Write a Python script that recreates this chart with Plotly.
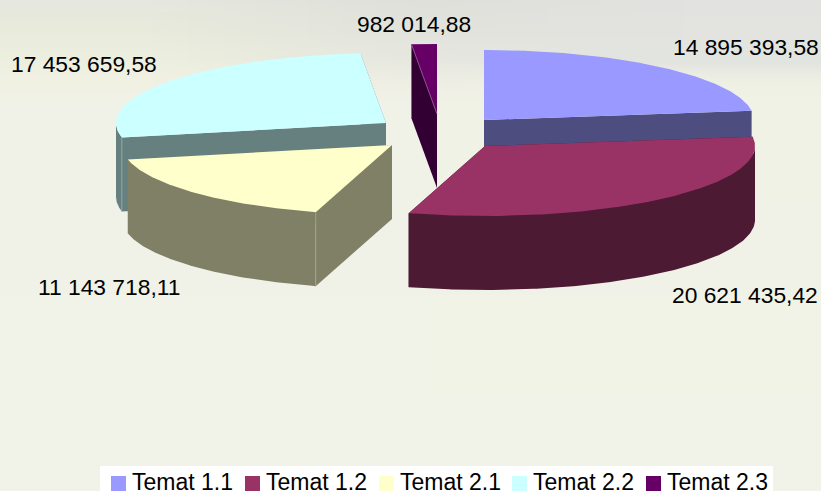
import base64, struct, zlib
import numpy as np
import plotly.graph_objects as go

# ---- data ----
categories = ["Temat 1.1", "Temat 1.2", "Temat 2.1", "Temat 2.2", "Temat 2.3"]
values = [14895393.58, 20621435.42, 11143718.11, 17453659.58, 982014.88]

# ---- styles / layout constants (page pixels) ----
top_colors = ["#9999ff", "#993366", "#ffffcc", "#ccffff", "#660066"]
wall_colors = ["#4d4d80", "#4d1a33", "#808066", "#668080", "#330033"]
seam_colors = ["#6a6a9a", "#6a3a50", "#a3a38c", "#8aa3a3", "#8a4c8a"]
apex = [(484, 120), (485, 146), (392, 145), (386, 123), (437, 114)]
label_pos = [(672, 47), (671, 295), (37, 287), (10, 64), (356, 24)]
legend_x = [111, 245, 379, 512, 646]
RX, RY, DEPTH = 270, 70, 74
W, H = 821, 491
FONT = "Liberation Sans"


def fmt(v):
    return f"{v:,.2f}".replace(",", " ").replace(".", ",")


def png_uri():
    rows_y = [0, 30, 60, 78, 100, 491]
    left = [(230, 231, 222), (233, 235, 220), (237, 239, 223), (240, 241, 227), (241, 242, 231), (242, 243, 232)]
    mid = [(223, 224, 218), (226, 227, 220), (231, 232, 223), (238, 238, 228), (241, 242, 231), (242, 243, 232)]
    right = [(226, 227, 224), (227, 228, 224), (226, 228, 224), (239, 240, 228), (241, 242, 230), (242, 243, 232)]
    h, w = 99, 3
    raw = bytearray()
    ys = np.linspace(0, 491, h)
    for y in ys:
        raw.append(0)
        for col in (left, mid, right):
            for c in range(3):
                raw.append(int(round(np.interp(y, rows_y, [p[c] for p in col]))))

    def chunk(t, d):
        return struct.pack(">I", len(d)) + t + d + struct.pack(">I", zlib.crc32(t + d) & 0xffffffff)

    data = (b"\x89PNG\r\n\x1a\n" + chunk(b"IHDR", struct.pack(">IIBBBBB", w, h, 8, 2, 0, 0, 0))
            + chunk(b"IDAT", zlib.compress(bytes(raw))) + chunk(b"IEND", b""))
    return "data:image/png;base64," + base64.b64encode(data).decode()


def pt(c, t, dy=0):
    return c[0] + RX * np.sin(t), c[1] - RY * np.cos(t) + dy


def poly(x, y, color):
    return go.Scatter(x=list(x) + [x[0]], y=list(y) + [y[0]], mode="lines", fill="toself", fillcolor=color,
                      line=dict(width=0, color=color), hoverinfo="skip", showlegend=False)


total = sum(values)
cum = np.cumsum([0] + values) / total * 2 * np.pi
traces = []
for i in [3, 2, 4, 0, 1]:
    a0, a1 = cum[i], cum[i + 1]
    c = apex[i]
    ts = np.linspace(a0, a1, 160)
    # radial walls
    for t in (a0, a1):
        px, py = pt(c, t)
        traces.append(poly([c[0], px, px, c[0]], [c[1], py, py + DEPTH, c[1] + DEPTH], wall_colors[i]))
    # outer wall, front half
    lo, hi = max(a0, np.pi / 2), min(a1, 3 * np.pi / 2)
    if hi > lo:
        tw = np.linspace(lo, hi, 160)
        xt, yt = pt(c, tw)
        xb, yb = pt(c, tw, DEPTH)
        traces.append(poly(list(xt) + list(xb[::-1]), list(yt) + list(yb[::-1]), wall_colors[i]))
    # top face
    xa, ya = pt(c, ts)
    traces.append(poly([c[0]] + list(xa), [c[1]] + list(ya), top_colors[i]))
    # seam at the front corner of the slice
    if i in (2, 3):
        sx, sy = pt(c, a0)
        traces.append(go.Scatter(x=[sx, sx], y=[sy, sy + DEPTH], mode="lines", hoverinfo="skip", showlegend=False,
                                 line=dict(width=1, color=seam_colors[i])))
    if i == 4:
        sx, sy = pt(c, a0)
        traces.append(go.Scatter(x=[c[0], sx], y=[c[1], sy], mode="lines", hoverinfo="skip", showlegend=False,
                                 line=dict(width=1, color=seam_colors[i])))

# legend entries drawn as marker + text, so the swatch/text spacing follows the picture
for i, name in enumerate(categories):
    traces.append(go.Scatter(x=[legend_x[i] + 7.5], y=[483.5], mode="markers", hoverinfo="skip", showlegend=False,
                             marker=dict(symbol="square", size=15, color=top_colors[i], line=dict(width=0))))

annotations = [dict(x=p[0], y=p[1], text=fmt(v), showarrow=False, xanchor="left", yanchor="middle", xref="x", yref="y",
                    font=dict(family=FONT, size=22.8, color="#000000"), xshift=-1)
               for p, v in zip(label_pos, values)]
annotations += [dict(x=legend_x[i] + 20, y=482, text=name, showarrow=False, xanchor="left", yanchor="middle", xref="x",
                     yref="y", font=dict(family=FONT, size=23, color="#000000"), xshift=-1)
                for i, name in enumerate(categories)]

fig = go.Figure(traces)
fig.update_layout(
    width=W, height=H, margin=dict(l=0, r=0, t=0, b=0), template=None, showlegend=False,
    paper_bgcolor="#f2f3e8", plot_bgcolor="rgba(0,0,0,0)",
    xaxis=dict(range=[0, W], visible=False, fixedrange=True),
    yaxis=dict(range=[H, 0], visible=False, fixedrange=True),
    annotations=annotations,
    shapes=[dict(type="rect", x0=100, x1=773, y0=466, y1=491, xref="x", yref="y", fillcolor="#ffffff",
                 line=dict(width=0), layer="below")],
    images=[dict(source=png_uri(), xref="paper", yref="paper", x=0, y=1, sizex=1, sizey=1, sizing="stretch",
                 xanchor="left", yanchor="top", layer="below")],
)
fig.write_html("out.html", config=dict(displayModeBar=False),
               post_script="document.body.style.margin='0';document.documentElement.style.overflow='hidden';")
